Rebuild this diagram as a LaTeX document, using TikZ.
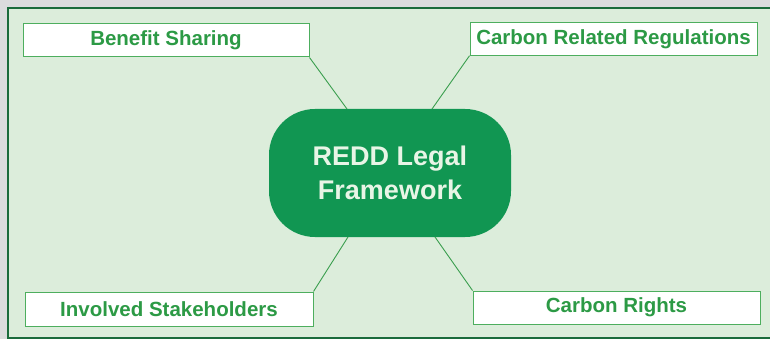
\documentclass[tikz,border=0pt]{standalone}
\usepackage{fontspec}
\setmainfont{Liberation Sans}
\definecolor{outergray}{HTML}{DCDCDE}
\definecolor{bggreen}{HTML}{DCEDDB}
\definecolor{framegreen}{HTML}{1B6B3C}
\definecolor{boxgreen}{HTML}{4DAE5E}
\definecolor{txtgreen}{HTML}{2C9A45}
\definecolor{centgreen}{HTML}{119652}
\definecolor{centtxt}{HTML}{E8F5E6}
\definecolor{linegreen}{HTML}{3A9E4E}
\tikzset{
  labelbox/.style={draw=boxgreen, line width=1pt, fill=white, minimum height=33pt,
    inner sep=0pt, font=\fontsize{20.5}{24}\selectfont\bfseries, text=txtgreen},
  centerbox/.style={fill=centgreen, rounded corners=46pt, minimum width=242pt, minimum height=128pt,
    inner sep=0pt, align=center, font=\fontsize{27}{34}\selectfont\bfseries, text=centtxt},
  link/.style={draw=linegreen, line width=0.9pt}
}
\begin{document}
\begin{tikzpicture}[x=1pt,y=1pt]
\useasboundingbox (0,0) rectangle (770,-339);
\fill[outergray] (0,0) rectangle (770,-339);
\draw[fill=bggreen, draw=framegreen, line width=2pt] (8,-8) rectangle (780,-337.5);
\node[centerbox] (c) at (390,-173) {REDD Legal\\Framework};
\node[labelbox, minimum width=286pt] (b1) at (166,-40.5) {Benefit Sharing};
\node[labelbox, minimum width=287pt, minimum height=32.5pt] (b2) at (613.5,-39) {Carbon Related Regulations};
\node[labelbox, minimum width=288pt, minimum height=34pt] (b3) at (169,-309) {Involved Stakeholders};
\node[labelbox, minimum width=287pt] (b4) at (616.5,-307.5) {Carbon Rights};
\coordinate (c1) at (347,-109);
\coordinate (c2) at (432,-109);
\coordinate (c3) at (348,-237);
\coordinate (c4) at (435,-237);
\draw[link] (b1.south east) -- (c1);
\draw[link] (b2.south west) -- (c2);
\draw[link] (b3.north east) -- (c3);
\draw[link] (b4.north west) -- (c4);
\end{tikzpicture}
\end{document}
